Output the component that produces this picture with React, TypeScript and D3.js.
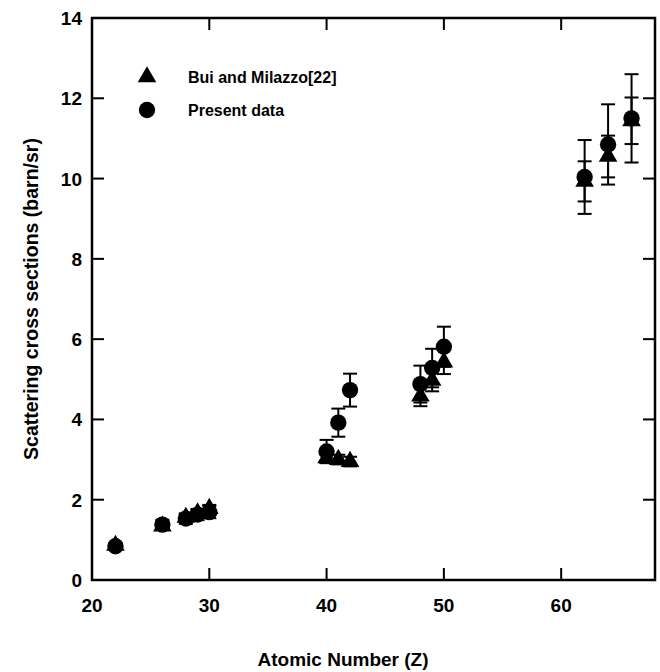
import React, { useEffect, useRef } from "react";
import * as d3 from "d3";

// Atomic numbers of the targets
const zValues = [22, 26, 28, 29, 30, 40, 41, 42, 48, 49, 50, 62, 64, 66];

// Present data (circles)
const presentValues = [0.84, 1.38, 1.53, 1.63, 1.69, 3.2, 3.92, 4.73, 4.88, 5.28, 5.81, 10.04, 10.85, 11.5];
const presentErrors = [0.08, 0.12, 0.13, 0.14, 0.15, 0.29, 0.35, 0.41, 0.46, 0.48, 0.5, 0.92, 1.0, 1.1];

// Bui and Milazzo [22] (triangles)
const buiValues = [0.86, 1.34, 1.56, 1.67, 1.78, 3.04, 3.0, 2.95, 4.58, 4.97, 5.43, 9.93, 10.55, 11.44];
const buiErrors = [0.05, 0.07, 0.08, 0.08, 0.09, 0.12, 0.12, 0.12, 0.25, 0.27, 0.3, 0.5, 0.52, 0.58];

const xTicks = [20, 30, 40, 50, 60];
const yTicks = [0, 2, 4, 6, 8, 10, 12, 14];

const legendLabels = ["Bui and Milazzo[22]", "Present data"];

const W = 660;
const H = 672;
const margin = { top: 18, right: 5, bottom: 92, left: 92 };
const font = "'Liberation Sans', Arial, Helvetica, sans-serif";

const ScatterChart: React.FC = () => {
  const svgRef = useRef<SVGSVGElement>(null);

  useEffect(() => {
    if (!svgRef.current) return;
    const svg = d3.select(svgRef.current);
    svg.selectAll("*").remove();

    const x = d3.scaleLinear().domain([20, 68]).range([margin.left, W - margin.right]);
    const y = d3.scaleLinear().domain([0, 14]).range([H - margin.bottom, margin.top]);

    const x0 = margin.left;
    const x1 = W - margin.right;
    const y0 = H - margin.bottom;
    const y1 = margin.top;
    const tickLen = 12;

    // frame
    svg
      .append("rect")
      .attr("x", x0)
      .attr("y", y1)
      .attr("width", x1 - x0)
      .attr("height", y0 - y1)
      .attr("fill", "none")
      .attr("stroke", "#000")
      .attr("stroke-width", 2.5);

    // inward ticks, mirrored on all sides
    const ticks = svg.append("g").attr("stroke", "#000").attr("stroke-width", 2);
    xTicks.slice(1).forEach((t) => {
      ticks.append("line").attr("x1", x(t)).attr("x2", x(t)).attr("y1", y0).attr("y2", y0 - tickLen);
      ticks.append("line").attr("x1", x(t)).attr("x2", x(t)).attr("y1", y1).attr("y2", y1 + tickLen);
    });
    yTicks.slice(1, -1).forEach((t) => {
      ticks.append("line").attr("x1", x0).attr("x2", x0 + tickLen).attr("y1", y(t)).attr("y2", y(t));
      ticks.append("line").attr("x1", x1).attr("x2", x1 - tickLen).attr("y1", y(t)).attr("y2", y(t));
    });

    // tick labels
    svg
      .append("g")
      .selectAll("text")
      .data(xTicks)
      .enter()
      .append("text")
      .attr("x", (d) => x(d))
      .attr("y", y0 + 32)
      .attr("text-anchor", "middle")
      .attr("font-family", font)
      .attr("font-weight", "bold")
      .attr("font-size", 19)
      .text((d) => d);

    svg
      .append("g")
      .selectAll("text")
      .data(yTicks)
      .enter()
      .append("text")
      .attr("x", x0 - 10)
      .attr("y", (d) => y(d) + 7)
      .attr("text-anchor", "end")
      .attr("font-family", font)
      .attr("font-weight", "bold")
      .attr("font-size", 19)
      .text((d) => d);

    // axis titles
    svg
      .append("text")
      .attr("x", 343)
      .attr("y", H - 6)
      .attr("text-anchor", "middle")
      .attr("font-family", font)
      .attr("font-weight", "bold")
      .attr("font-size", 19)
      .text("Atomic Number (Z)");

    svg
      .append("text")
      .attr("transform", `translate(38, ${(y0 + y1) / 2}) rotate(-90)`)
      .attr("text-anchor", "middle")
      .attr("font-family", font)
      .attr("font-weight", "bold")
      .attr("font-size", 19.5)
      .text("Scattering cross sections (barn/sr)");

    const tri = d3.symbol().type(d3.symbolTriangle).size(150);
    const circ = d3.symbol().type(d3.symbolCircle).size(210);
    const capHalf = 7;

    const drawErrors = (vals: number[], errs: number[]) => {
      const g = svg.append("g").attr("stroke", "#000").attr("stroke-width", 2);
      zValues.forEach((z, i) => {
        const cx = x(z);
        const top = y(vals[i] + errs[i]);
        const bot = y(vals[i] - errs[i]);
        g.append("line").attr("x1", cx).attr("x2", cx).attr("y1", top).attr("y2", bot);
        g.append("line").attr("x1", cx - capHalf).attr("x2", cx + capHalf).attr("y1", top).attr("y2", top);
        g.append("line").attr("x1", cx - capHalf).attr("x2", cx + capHalf).attr("y1", bot).attr("y2", bot);
      });
    };

    drawErrors(buiValues, buiErrors);
    drawErrors(presentValues, presentErrors);

    svg
      .append("g")
      .selectAll("path")
      .data(buiValues)
      .enter()
      .append("path")
      .attr("d", tri)
      .attr("transform", (d, i) => `translate(${x(zValues[i])},${y(d)})`)
      .attr("fill", "#000");

    svg
      .append("g")
      .selectAll("path")
      .data(presentValues)
      .enter()
      .append("path")
      .attr("d", circ)
      .attr("transform", (d, i) => `translate(${x(zValues[i])},${y(d)})`)
      .attr("fill", "#000");

    // legend
    const legend = svg.append("g");
    legendLabels.forEach((label, i) => {
      const ly = 77 + i * 33;
      legend
        .append("path")
        .attr("d", i === 0 ? tri : circ)
        .attr("transform", `translate(147,${ly})`)
        .attr("fill", "#000");
      legend
        .append("text")
        .attr("x", 188)
        .attr("y", ly + 6)
        .attr("font-family", font)
        .attr("font-weight", "bold")
        .attr("font-size", 16)
        .text(label);
    });
  }, []);

  return (
    <svg
      ref={svgRef}
      width={W}
      height={H}
      style={{ position: "absolute", left: 0, top: 0, background: "#fff" }}
    ></svg>
  );
};

export default function App() {
  return <ScatterChart />;
}
